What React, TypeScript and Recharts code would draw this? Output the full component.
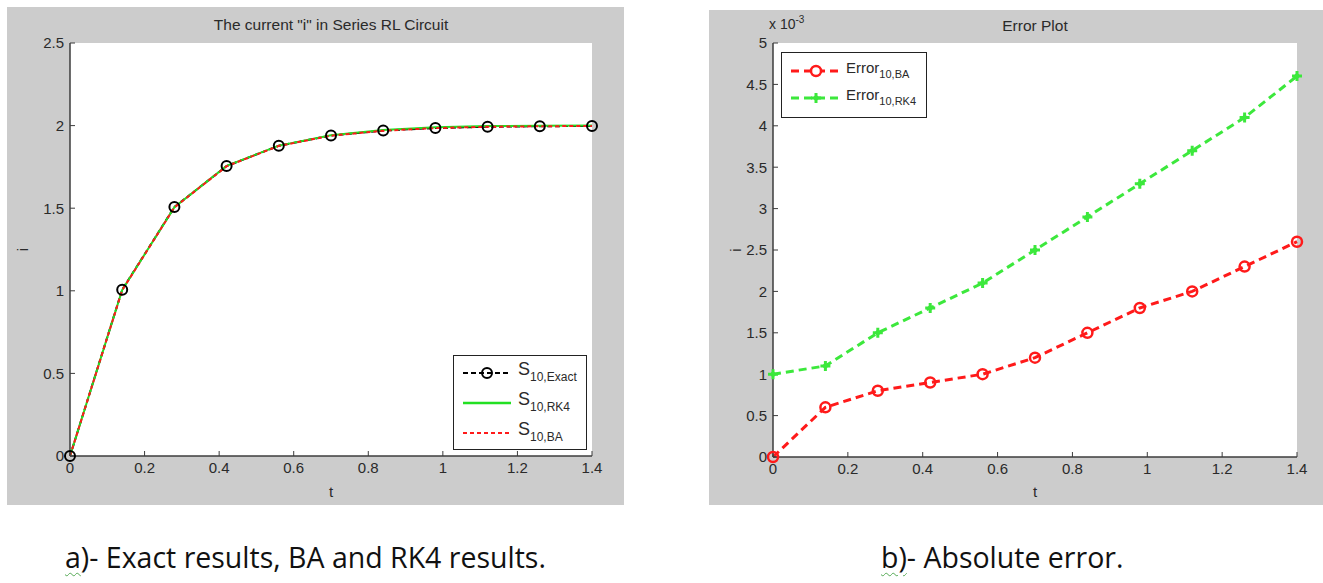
import React from 'react';
import { LineChart, Line, XAxis, YAxis, CartesianGrid, Legend } from 'recharts';

// ---------- data ----------
const tValues = [0, 0.14, 0.28, 0.42, 0.56, 0.7, 0.84, 0.98, 1.12, 1.26, 1.4];
const exactValues = [0, 1.007, 1.507, 1.755, 1.878, 1.94, 1.97, 1.985, 1.993, 1.996, 1.998];
const rk4Values = [0, 1.005, 1.506, 1.756, 1.879, 1.942, 1.973, 1.99, 1.997, 1.999, 2.0];
const baValues = [0, 1.004, 1.505, 1.754, 1.877, 1.939, 1.969, 1.985, 1.993, 1.996, 1.998];
const errBAValues = [0, 0.6, 0.8, 0.9, 1.0, 1.2, 1.5, 1.8, 2.0, 2.3, 2.6]; // x 10^-3
const errRK4Values = [1.0, 1.1, 1.5, 1.8, 2.1, 2.5, 2.9, 3.3, 3.7, 4.1, 4.6]; // x 10^-3
const xTicks = [0, 0.2, 0.4, 0.6, 0.8, 1, 1.2, 1.4];
const yTicksA = [0, 0.5, 1, 1.5, 2, 2.5];
const yTicksB = [0, 0.5, 1, 1.5, 2, 2.5, 3, 3.5, 4, 4.5, 5];

const dataA = tValues.map((t, i) => ({ t, exact: exactValues[i], rk4: rk4Values[i], ba: baValues[i] }));
const dataB = tValues.map((t, i) => ({ t, ba: errBAValues[i], rk4: errRK4Values[i] }));

// ---------- styles ----------
const GRAY = '#cccccc';
const AXIS = '#3c3c3c';
const TXT = '#2a2a2a';
const FONT = '"Liberation Sans", Arial, sans-serif';
const RED = '#ff1a1a';
const GREEN = '#22e022';
const GREEN_B = '#3ce83c';
const tickStyle = { fill: TXT, fontSize: 15, fontFamily: FONT };

const ExactDot = (p: any) => {
  if (p.cx == null || p.cy == null) return <g key={p.index} />;
  return <circle key={p.index} cx={p.cx} cy={p.cy} r={5} fill="none" stroke="#000" strokeWidth={2} />;
};
const BADot = (p: any) => {
  if (p.cx == null || p.cy == null) return <g key={p.index} />;
  return <circle key={p.index} cx={p.cx} cy={p.cy} r={5} fill="none" stroke={RED} strokeWidth={2.5} />;
};
const PlusDot = (p: any) => {
  if (p.cx == null || p.cy == null) return <g key={p.index} />;
  const { cx, cy } = p;
  return (
    <g key={p.index}>
      <path d={`M${cx - 5},${cy}L${cx + 5},${cy}M${cx},${cy - 5}L${cx},${cy + 5}`} stroke={GREEN_B} strokeWidth={3} />
      <path d={`M${cx},${cy - 3.5}L${cx + 3.5},${cy}L${cx},${cy + 3.5}L${cx - 3.5},${cy}Z`} fill={GREEN_B} />
    </g>
  );
};

const YLabel = (props: any) => {
  const vb = props.viewBox || {};
  const x = vb.x + props.dxPos;
  const y = vb.y + vb.height / 2;
  return (
    <text x={x} y={y} transform={`rotate(-90 ${x} ${y})`} textAnchor="middle" dominantBaseline="central" fill={TXT} fontSize={15} fontFamily={FONT}>
      i
    </text>
  );
};

const legendBox: React.CSSProperties = {
  background: '#fff',
  border: '1px solid #222',
  boxSizing: 'border-box',
  fontFamily: FONT,
  color: TXT,
};

const LegendA = () => (
  <div style={{ ...legendBox, width: 134, height: 95, paddingTop: 2, paddingLeft: 9 }}>
    {[
      { name: 'Exact', sample: (
        <svg width={48} height={14}>
          <line x1={0} y1={7} x2={48} y2={7} stroke="#000" strokeWidth={2} strokeDasharray="5 3" />
          <circle cx={24} cy={7} r={5} fill="none" stroke="#000" strokeWidth={2} />
        </svg>) },
      { name: 'RK4', sample: (
        <svg width={48} height={14}>
          <line x1={0} y1={7} x2={48} y2={7} stroke={GREEN} strokeWidth={2.5} />
        </svg>) },
      { name: 'BA', sample: (
        <svg width={48} height={14}>
          <line x1={0} y1={7} x2={48} y2={7} stroke={RED} strokeWidth={2} strokeDasharray="4 3" />
        </svg>) },
    ].map((r) => (
      <div key={r.name} style={{ height: 30, display: 'flex', alignItems: 'center' }}>
        {r.sample}
        <span style={{ marginLeft: 7, fontSize: 18, lineHeight: '18px' }}>
          S<sub style={{ fontSize: 12, verticalAlign: -6 }}>10,{r.name}</sub>
        </span>
      </div>
    ))}
  </div>
);

const LegendB = () => (
  <div style={{ ...legendBox, width: 146, height: 66, paddingTop: 4, paddingLeft: 9 }}>
    {[
      { name: 'BA', sample: (
        <svg width={50} height={14}>
          <line x1={0} y1={7} x2={50} y2={7} stroke={RED} strokeWidth={3} strokeDasharray="8 5" />
          <circle cx={25} cy={7} r={5} fill="#fff" stroke={RED} strokeWidth={2.5} />
        </svg>) },
      { name: 'RK4', sample: (
        <svg width={50} height={14}>
          <line x1={0} y1={7} x2={50} y2={7} stroke={GREEN_B} strokeWidth={3} strokeDasharray="8 5" />
          <path d="M20,7L30,7M25,2L25,12" stroke={GREEN_B} strokeWidth={3} />
          <path d="M25,3.5L28.5,7L25,10.5L21.5,7Z" fill={GREEN_B} />
        </svg>) },
    ].map((r) => (
      <div key={r.name} style={{ height: 27, display: 'flex', alignItems: 'center' }}>
        {r.sample}
        <span style={{ marginLeft: 5, fontSize: 15, lineHeight: '15px' }}>
          Error<sub style={{ fontSize: 11, verticalAlign: -5 }}>10,{r.name}</sub>
        </span>
      </div>
    ))}
  </div>
);

const captionStyle: React.CSSProperties = {
  position: 'absolute', top: 538, fontFamily: '"Open Sans", Lato, sans-serif', fontSize: 28.5, color: '#111', whiteSpace: 'nowrap',
};
const squiggle: React.CSSProperties = { textDecoration: 'underline wavy #5a5', textUnderlineOffset: 4, textDecorationThickness: 1 };

export default function App() {
  return (
    <div style={{ position: 'absolute', left: 0, top: 0, width: 1323, height: 583, background: '#fff', overflow: 'hidden' }}>
      {/* Left figure */}
      <div style={{ position: 'absolute', left: 7, top: 7, width: 617, height: 498, background: GRAY }}>
        <div style={{ position: 'absolute', left: 63, width: 522, top: 9, textAlign: 'center', fontFamily: FONT, fontSize: 15.5, color: TXT }}>
          The current "i" in Series RL Circuit
        </div>
        <LineChart width={617} height={498} data={dataA} margin={{ top: 36, right: 32, left: 0, bottom: 0 }}>
          <CartesianGrid horizontal={false} vertical={false} fill="#ffffff" stroke="none" />
          <XAxis
            dataKey="t" type="number" domain={[0, 1.4]} ticks={xTicks} interval={0} height={49}
            tick={tickStyle} tickSize={-5} tickMargin={11} axisLine={{ stroke: AXIS, strokeWidth: 1.5 }} tickLine={{ stroke: AXIS }}
            label={{ value: 't', position: 'insideBottom', offset: 8, fill: TXT, fontSize: 15, fontFamily: FONT }}
          />
          <YAxis
            type="number" domain={[0, 2.5]} ticks={yTicksA} interval={0} width={63}
            tick={tickStyle} tickSize={-5} tickMargin={11} axisLine={{ stroke: AXIS, strokeWidth: 1.5 }} tickLine={{ stroke: AXIS }}
            label={<YLabel dxPos={15} />}
          />
          <Line dataKey="exact" stroke="#000" strokeWidth={2} strokeDasharray="5 3" dot={ExactDot} isAnimationActive={false} />
          <Line dataKey="rk4" stroke={GREEN} strokeWidth={2} dot={false} isAnimationActive={false} />
          <Line dataKey="ba" stroke={RED} strokeWidth={2} strokeDasharray="4 3" dot={false} isAnimationActive={false} />
          <Legend layout="vertical" align="center" verticalAlign="middle" content={LegendA}
            wrapperStyle={{ left: 446, top: 348, width: 134, height: 95 }} />
        </LineChart>
      </div>

      {/* Right figure */}
      <div style={{ position: 'absolute', left: 709, top: 10, width: 614, height: 495, background: GRAY }}>
        <div style={{ position: 'absolute', left: 64, width: 524, top: 7, textAlign: 'center', fontFamily: FONT, fontSize: 15.5, color: TXT }}>
          Error Plot
        </div>
        <div style={{ position: 'absolute', left: 60, top: 4, fontFamily: FONT, fontSize: 14, color: TXT, whiteSpace: 'nowrap' }}>
          x 10<sup style={{ fontSize: 10, verticalAlign: 6 }}>-3</sup>
        </div>
        <LineChart width={614} height={495} data={dataB} margin={{ top: 33, right: 26, left: 0, bottom: 0 }}>
          <CartesianGrid horizontal={false} vertical={false} fill="#ffffff" stroke="none" />
          <XAxis
            dataKey="t" type="number" domain={[0, 1.4]} ticks={xTicks} interval={0} height={48}
            tick={tickStyle} tickSize={-5} tickMargin={11} axisLine={{ stroke: AXIS, strokeWidth: 1.5 }} tickLine={{ stroke: AXIS }}
            label={{ value: 't', position: 'insideBottom', offset: 8, fill: TXT, fontSize: 15, fontFamily: FONT }}
          />
          <YAxis
            type="number" domain={[0, 5]} ticks={yTicksB} interval={0} width={64}
            tick={tickStyle} tickSize={-5} tickMargin={11} axisLine={{ stroke: AXIS, strokeWidth: 1.5 }} tickLine={{ stroke: AXIS }}
            label={<YLabel dxPos={26} />}
          />
          <Line dataKey="rk4" stroke={GREEN_B} strokeWidth={3} strokeDasharray="8 5" dot={PlusDot} isAnimationActive={false} />
          <Line dataKey="ba" stroke={RED} strokeWidth={3} strokeDasharray="8 5" dot={BADot} isAnimationActive={false} />
          <Legend layout="vertical" align="center" verticalAlign="middle" content={LegendB}
            wrapperStyle={{ left: 72, top: 42, width: 146, height: 66 }} />
        </LineChart>
      </div>

      {/* Captions */}
      <div style={{ ...captionStyle, left: 65 }}>
        <span style={squiggle}>a</span>)- Exact results, BA and RK4 results.
      </div>
      <div style={{ ...captionStyle, left: 881 }}>
        <span style={squiggle}>b)</span>- Absolute error.
      </div>
    </div>
  );
}
